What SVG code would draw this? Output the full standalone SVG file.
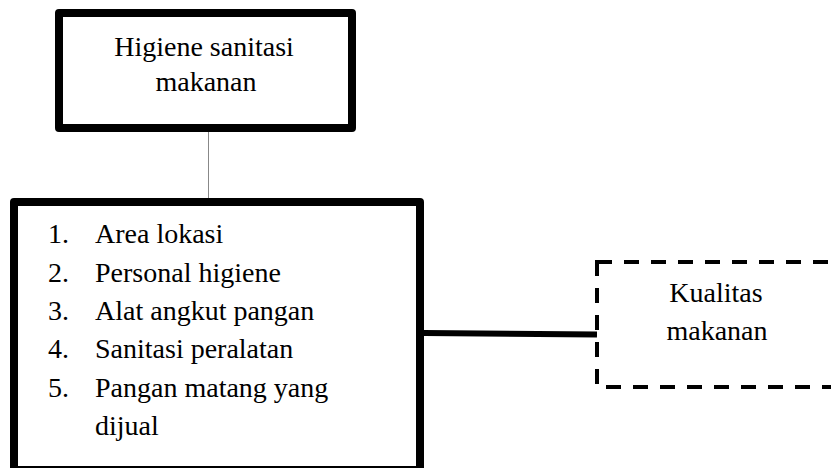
<svg xmlns="http://www.w3.org/2000/svg" width="831" height="468" viewBox="0 0 831 468">
<style>
.box{fill:#fff;stroke:#000;stroke-width:8;stroke-linejoin:round}
.dash{fill:#fff;stroke:#000;stroke-width:4;stroke-dasharray:15 12}
</style>
<rect width="831" height="468" fill="#fff"/>
<g id="connectors">
<line x1="208.5" y1="132" x2="208.5" y2="198" stroke="#888" stroke-width="1"/>
<line x1="424" y1="333" x2="597" y2="334.5" stroke="#000" stroke-width="6"/>
</g>
<g id="node-higiene">
<rect class="box" x="59" y="13" width="293" height="115"/>
<text x="204" y="56" style="font-family:'Liberation Serif','Times New Roman',serif;font-size:28px" text-anchor="middle">Higiene sanitasi</text>
<text x="206" y="91" style="font-family:'Liberation Serif','Times New Roman',serif;font-size:28px" text-anchor="middle">makanan</text>
</g>
<g id="node-list">
<rect class="box" x="14" y="202" width="406" height="268"/>
<text x="48" y="243" style="font-family:'Liberation Serif','Times New Roman',serif;font-size:28px">1.</text>
<text x="95" y="243" style="font-family:'Liberation Serif','Times New Roman',serif;font-size:28px">Area lokasi</text>
<text x="48" y="282" style="font-family:'Liberation Serif','Times New Roman',serif;font-size:28px">2.</text>
<text x="95" y="282" style="font-family:'Liberation Serif','Times New Roman',serif;font-size:28px">Personal higiene</text>
<text x="48" y="320" style="font-family:'Liberation Serif','Times New Roman',serif;font-size:28px">3.</text>
<text x="95" y="320" style="font-family:'Liberation Serif','Times New Roman',serif;font-size:28px">Alat angkut pangan</text>
<text x="48" y="358" style="font-family:'Liberation Serif','Times New Roman',serif;font-size:28px">4.</text>
<text x="95" y="358" style="font-family:'Liberation Serif','Times New Roman',serif;font-size:28px">Sanitasi peralatan</text>
<text x="48" y="397" style="font-family:'Liberation Serif','Times New Roman',serif;font-size:28px">5.</text>
<text x="95" y="397" style="font-family:'Liberation Serif','Times New Roman',serif;font-size:28px">Pangan matang yang</text>
<text x="95" y="435" style="font-family:'Liberation Serif','Times New Roman',serif;font-size:28px">dijual</text>
</g>
<g id="node-kualitas">
<rect class="dash" x="597" y="262" width="260" height="125"/>
<text x="716" y="302" style="font-family:'Liberation Serif','Times New Roman',serif;font-size:28px" text-anchor="middle">Kualitas</text>
<text x="717" y="340" style="font-family:'Liberation Serif','Times New Roman',serif;font-size:28px" text-anchor="middle">makanan</text>
</g>
</svg>
